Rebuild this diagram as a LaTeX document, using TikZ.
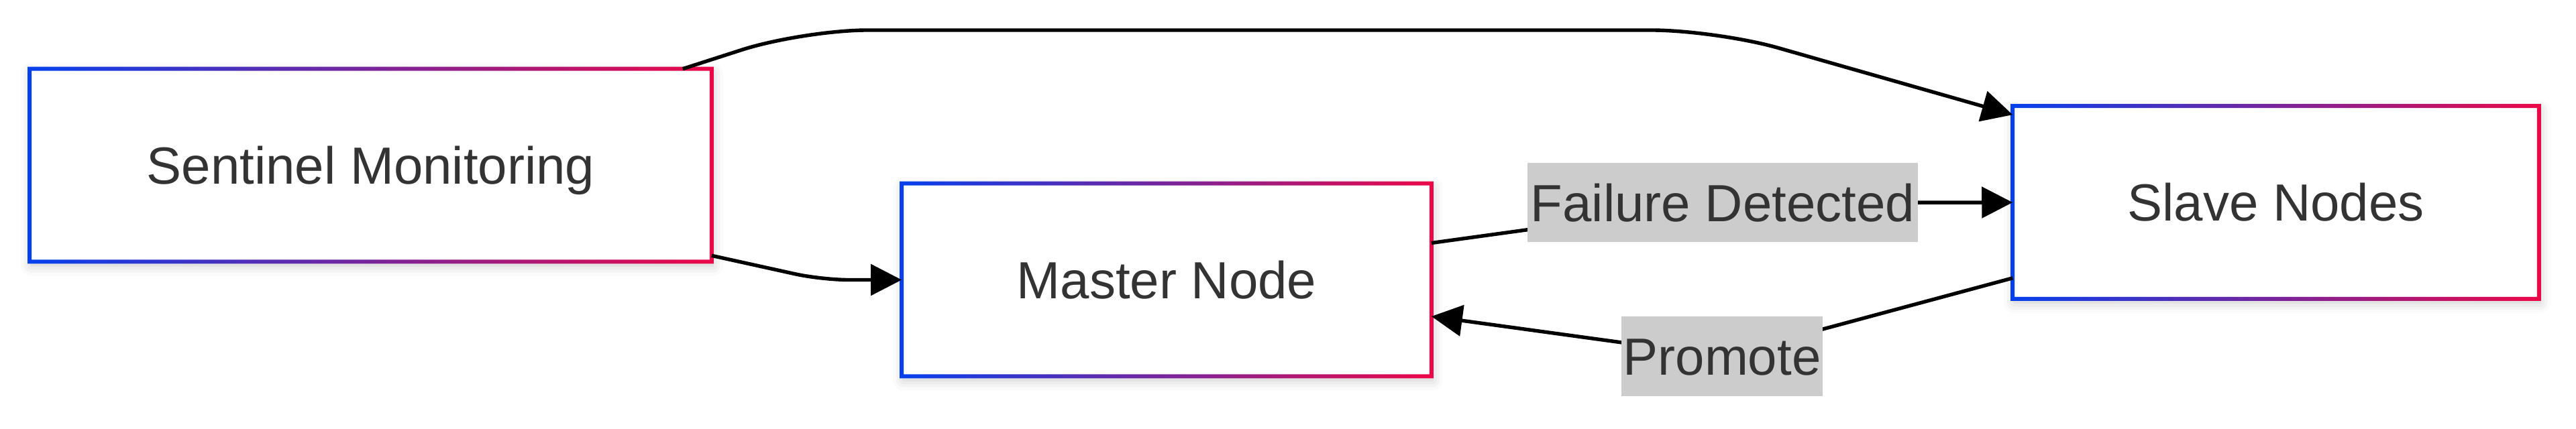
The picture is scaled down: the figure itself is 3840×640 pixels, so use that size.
\documentclass[tikz,border=0pt]{standalone}
\usepackage{fontspec}
\setmainfont{Liberation Sans}
\usetikzlibrary{arrows.meta,calc,shadows.blur}
\definecolor{gblue}{RGB}{5,64,238}
\definecolor{gred}{RGB}{236,8,72}
\definecolor{txt}{RGB}{51,51,51}
\definecolor{lblbg}{RGB}{204,204,204}
\tikzset{
  box/.style={draw=none, fill=white, inner sep=0pt, minimum height=71.5pt,
    text=txt, font=\fontsize{19.5}{23}\selectfont, text height=14pt, text depth=0pt,
    blur shadow={shadow xshift=0.5pt, shadow yshift=-1.5pt, shadow blur radius=4pt, shadow opacity=22}},
  lbl/.style={fill=lblbg, inner sep=0pt, minimum height=29.5pt, text=txt,
    text height=14pt, text depth=0pt,
    font=\fontsize{19.5}{23}\selectfont},
  arr/.style={line width=1.35pt, draw=black, -{Triangle[length=11.5pt,width=11.5pt]}}
}
\newcommand{\gradborder}[1]{%
  \shade[left color=gblue, right color=gred, even odd rule]
    ($(#1.south west)+(-3,3)$) rectangle ($(#1.north east)+(3,-3)$)
    ($(#1.south west)+(3,-3)$) rectangle ($(#1.north east)+(-3,3)$);}
\begin{document}
\begin{tikzpicture}[x=0.25pt,y=-0.25pt]
\useasboundingbox (0,0) rectangle (3840,640);
% nodes
\node[box, minimum width=253.75pt] (S) at (552.5,246.5) {Sentinel Monitoring};
\node[box, minimum width=197pt] (M) at (1739,417.5) {Master Node};
\node[box, minimum width=195.75pt] (L) at (3392.5,302) {Slave Nodes};
\gradborder{S}
\gradborder{M}
\gradborder{L}
% label positions
\coordinate (fd) at (2568,302.5);
\coordinate (pr) at (2567,531.5);
% connectors
\draw[arr, rounded corners=10pt] ($(S.south east)+(0,-9)$) -- (1225,417.5) -- (M.west);
\draw[arr, rounded corners=24pt] ($(S.north east)+(-43,0)$) -- (1197,45) -- (2558,45) -- ($(L.north west)+(0,13)$);
\draw[arr] ($(M.east)+(0,-55)$) -- (fd) -- (L.west);
\draw[arr] ($(L.south west)+(0,-31)$) -- (pr) -- ($(M.east)+(0,54.5)$);
% labels
\node[lbl, minimum width=145.5pt] (FD) at (fd) {Failure Detected};
\node[lbl, minimum width=75pt] (PR) at (pr) {Promote};
\end{tikzpicture}
\end{document}
